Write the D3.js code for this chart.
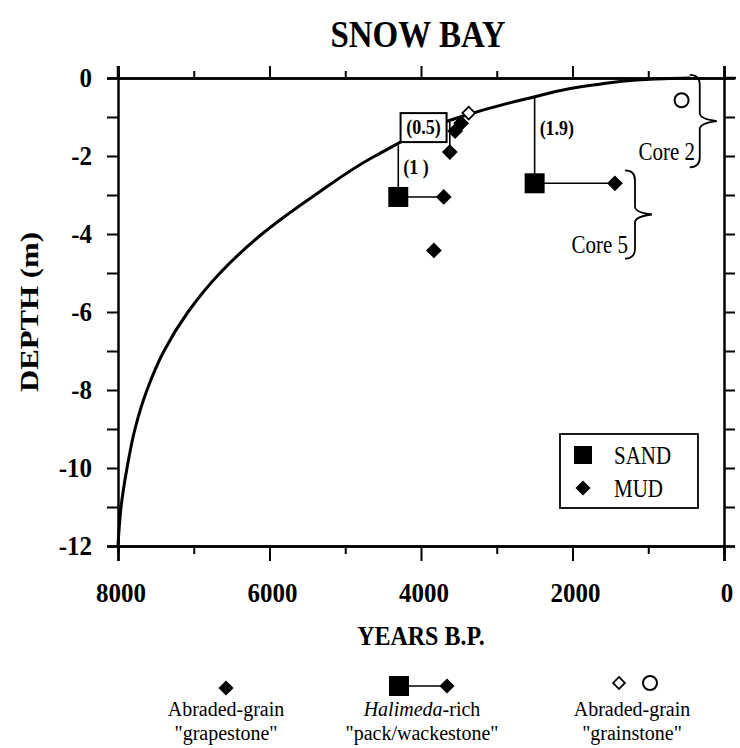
<!DOCTYPE html>
<html>
<head>
<meta charset="utf-8">
<script src="https://cdn.jsdelivr.net/npm/d3@7"></script>
<style>
  body { margin: 0; background: #fff; }
  text { font-family: "Liberation Serif", "Times New Roman", serif; fill: #000; }
</style>
</head>
<body>
<div id="chart"></div>
<script>
// depth curve: [years B.P., depth m]
const curveYears = [8000, 7960, 7881, 7776, 7617, 7393, 7076, 6653, 6099, 5399, 4607, 3485, 2535, 1729, 977, 449]
const curveDepth = [-12, -11, -10, -9, -8, -7, -6, -5, -4, -3, -2, -1, -0.5, -0.18, -0.03, 0]

// sand / mud pairs (Halimeda-rich)
const sandYears = [4300, 2500]
const sandDepth = [-3.05, -2.7]
const pairMudYears = [3700, 1440]
const pairMudDepth = [-3.05, -2.7]

// filled diamonds (grapestone)
const mudYears = [3830, 3620, 3550, 3470]
const mudDepth = [-4.42, -1.9, -1.36, -1.16]

// open markers (grainstone)
const openDiamondYears = [3370]
const openDiamondDepth = [-0.9]
const openCircleYears = [560]
const openCircleDepth = [-0.57]

// offset lines from curve down to sample, with labels
const offsetYears = [4300, 3620, 2500]
const offsetDepth = [-3.05, -1.9, -2.7]
const offsetLabels = ['(1 )', '(0.5)', '(1.9)']

const xTicks = [8000, 6000, 4000, 2000, 0]
const yTicks = [0, -2, -4, -6, -8, -10, -12]

const width = 740, height = 748
const svg = d3.select('#chart').append('svg')
  .attr('width', width)
  .attr('height', height)

const x = d3.scaleLinear().domain([8000, 0]).range([118, 724])
const y = d3.scaleLinear().domain([0, -12]).range([78, 546])

// the scan is a little stretched vertically, so text is too
const tallText = function (sel, tx, ty, sy) {
  sel.attr('transform', `translate(${tx},${ty}) scale(1,${sy || 1.18})`)
}

// title
svg.append('text')
  .attr('text-anchor', 'middle')
  .attr('font-size', 33).attr('font-weight', 'bold')
  .text('SNOW BAY')
  .call(tallText, 418, 47)

const axisStyle = function (g) {
  g.select('.domain').attr('stroke-width', 2.5)
  g.selectAll('.tick line').attr('stroke-width', 2)
}

const allYears = d3.range(8000, -1, -1000)
const minorYears = allYears.filter(d => d % 2000 !== 0)
const allDepths = d3.range(0, -13, -1)

// bottom axis
svg.append('g').attr('transform', `translate(0,${y(-12)})`)
  .call(d3.axisBottom(x).tickValues(xTicks).tickSize(15).tickFormat(''))
  .call(axisStyle)
svg.append('g').attr('transform', `translate(0,${y(-12)})`)
  .call(d3.axisBottom(x).tickValues(minorYears).tickSize(8).tickFormat(''))
  .call(axisStyle)
svg.append('g').selectAll('text')
  .data(xTicks)
  .enter().append('text')
  .attr('text-anchor', 'middle')
  .attr('font-size', 25).attr('font-weight', 'bold')
  .text(d => String(d))
  .each(function (d) { d3.select(this).call(tallText, Math.min(x(d) + 3, 731), 602, 1.12) })

// top axis
svg.append('g').attr('transform', `translate(0,${y(0)})`)
  .call(d3.axisTop(x).tickValues(xTicks).tickSize(12).tickFormat(''))
  .call(axisStyle)
svg.append('g').attr('transform', `translate(0,${y(0)})`)
  .call(d3.axisTop(x).tickValues(minorYears).tickSize(7).tickFormat(''))
  .call(axisStyle)

// left axis
svg.append('g').attr('transform', `translate(${x(8000)},0)`)
  .call(d3.axisLeft(y).tickValues(allDepths).tickSize(11).tickFormat(''))
  .call(axisStyle)
svg.append('g').selectAll('text')
  .data(yTicks)
  .enter().append('text')
  .attr('text-anchor', 'end')
  .attr('font-size', 25).attr('font-weight', 'bold')
  .text(d => String(d))
  .each(function (d) { d3.select(this).call(tallText, 92, y(d) + 9, 1.12) })

// right axis
svg.append('g').attr('transform', `translate(${x(0)},0)`)
  .call(d3.axisRight(y).tickValues(allDepths).tickSize(11).tickFormat(''))
  .call(axisStyle)

// corner extensions
svg.append('line').attr('x1', x(8000)).attr('x2', x(8000)).attr('y1', y(0) - 12).attr('y2', y(0))
  .attr('stroke', '#000').attr('stroke-width', 2.5)
svg.append('line').attr('x1', x(0)).attr('x2', x(0) + 12).attr('y1', y(0)).attr('y2', y(0))
  .attr('stroke', '#000').attr('stroke-width', 2.5)

// axis titles
svg.append('text')
  .attr('transform', `translate(38,${y(-6)}) rotate(-90)`)
  .attr('text-anchor', 'middle')
  .attr('font-size', 25).attr('font-weight', 'bold')
  .attr('textLength', 160).attr('lengthAdjust', 'spacingAndGlyphs')
  .text('DEPTH (m)')

svg.append('text')
  .attr('text-anchor', 'middle')
  .attr('font-size', 24).attr('font-weight', 'bold')
  .text('YEARS B.P.')
  .call(tallText, 421, 645)

// curve
const curveData = curveYears.map((d, i) => [d, curveDepth[i]])
svg.append('path')
  .datum(curveData)
  .attr('fill', 'none')
  .attr('stroke', '#000')
  .attr('stroke-width', 3)
  .attr('d', d3.line().x(d => x(d[0])).y(d => y(d[1])).curve(d3.curveMonotoneY))

// helper: depth of curve at given years
const curveAt = d3.scaleLinear().domain(curveYears).range(curveDepth)

// offset lines up to the curve
offsetYears.forEach((t, i) => {
  svg.append('line')
    .attr('x1', x(t)).attr('x2', x(t))
    .attr('y1', y(curveAt(t))).attr('y2', y(offsetDepth[i]))
    .attr('stroke', '#000').attr('stroke-width', 1.6)
})

// horizontal pair lines sand -> mud
sandYears.forEach((t, i) => {
  svg.append('line')
    .attr('x1', x(t)).attr('x2', x(pairMudYears[i]))
    .attr('y1', y(sandDepth[i])).attr('y2', y(pairMudDepth[i]))
    .attr('stroke', '#000').attr('stroke-width', 1.6)
})

const diamondPath = function (s) { return d3.symbol().type(d3.symbolSquare).size(s)() }

function drawDiamond (g, cx, cy, filled, size) {
  g.append('path')
    .attr('d', diamondPath(size || 125))
    .attr('transform', `translate(${cx},${cy}) rotate(45)`)
    .attr('fill', filled ? '#000' : '#fff')
    .attr('stroke', '#000')
    .attr('stroke-width', filled ? 0 : 1.8)
}

// filled mud diamonds
mudYears.forEach((t, i) => drawDiamond(svg, x(t), y(mudDepth[i]), true))
pairMudYears.forEach((t, i) => drawDiamond(svg, x(t), y(pairMudDepth[i]), true))

// open diamond
openDiamondYears.forEach((t, i) => drawDiamond(svg, x(t), y(openDiamondDepth[i]), false, 80))

// sand squares
svg.selectAll('rect.sand')
  .data(sandYears)
  .enter().append('rect')
  .attr('class', 'sand')
  .attr('x', d => x(d) - 10)
  .attr('y', (d, i) => y(sandDepth[i]) - 10)
  .attr('width', 20).attr('height', 20)
  .attr('fill', '#000')

// open circle
svg.selectAll('circle.open')
  .data(openCircleYears)
  .enter().append('circle')
  .attr('cx', d => x(d))
  .attr('cy', (d, i) => y(openCircleDepth[i]))
  .attr('r', 7)
  .attr('fill', '#fff').attr('stroke', '#000').attr('stroke-width', 2)

// offset labels
svg.append('text').attr('font-size', 18).attr('font-weight', 'bold').text(offsetLabels[0])
  .call(tallText, x(4300) + 5, y(-2.45))
svg.append('text').attr('font-size', 18).attr('font-weight', 'bold').text(offsetLabels[2])
  .call(tallText, x(2500) + 5, y(-1.45))
const boxX = x(4230), boxY = y(-0.9)
svg.append('rect').attr('x', boxX - 3).attr('y', boxY).attr('width', 46).attr('height', 29)
  .attr('fill', '#fff').attr('stroke', '#000').attr('stroke-width', 2)
svg.append('text').attr('text-anchor', 'middle')
  .attr('font-size', 18).attr('font-weight', 'bold').text(offsetLabels[1])
  .call(tallText, boxX + 20, boxY + 21)

// braces
function brace (xp, y0, y1, w) {
  const mid = (y0 + y1) / 2
  return `M${xp - 10},${y0} Q${xp},${y0} ${xp},${y0 + 10} L${xp},${mid - 8} Q${xp},${mid - 2} ${xp + w},${mid}` +
    ` Q${xp},${mid + 2} ${xp},${mid + 8} L${xp},${y1 - 10} Q${xp},${y1} ${xp - 10},${y1}`
}
svg.append('path').attr('d', brace(x(320), y(0.08), y(-2.29), 17))
  .attr('fill', 'none').attr('stroke', '#000').attr('stroke-width', 1.8)
svg.append('path').attr('d', brace(x(1175), y(-2.37), y(-4.63), 17))
  .attr('fill', 'none').attr('stroke', '#000').attr('stroke-width', 1.8)
svg.append('text').attr('text-anchor', 'end').attr('font-size', 21).text('Core 2')
  .call(tallText, 695, 160)
svg.append('text').attr('text-anchor', 'end').attr('font-size', 21).text('Core 5')
  .call(tallText, 628, 253)

// SAND / MUD legend box
const lg = svg.append('g')
lg.append('rect').attr('x', 560).attr('y', 434).attr('width', 138).attr('height', 74)
  .attr('fill', '#fff').attr('stroke', '#000').attr('stroke-width', 1.8)
lg.append('rect').attr('x', 574).attr('y', 446).attr('width', 18).attr('height', 18).attr('fill', '#000')
drawDiamond(lg, 583, 488, true, 115)
lg.append('text').attr('font-size', 21).text('SAND').call(tallText, 614, 464)
lg.append('text').attr('font-size', 21).text('MUD').call(tallText, 614, 497)

// bottom legend
const bl = svg.append('g')
drawDiamond(bl, 226, 688, true, 115)
bl.append('line').attr('x1', 399).attr('x2', 447).attr('y1', 686).attr('y2', 686).attr('stroke', '#000').attr('stroke-width', 1.6)
bl.append('rect').attr('x', 389).attr('y', 676).attr('width', 20).attr('height', 20).attr('fill', '#000')
drawDiamond(bl, 447, 686, true, 115)
drawDiamond(bl, 619, 683, false, 70)
bl.append('circle').attr('cx', 650).attr('cy', 683).attr('r', 7).attr('fill', '#fff').attr('stroke', '#000').attr('stroke-width', 2)

const legendText = [
  { x: 226, lines: ['Abraded-grain', '"grapestone"'] },
  { x: 422, lines: ['-rich', '"pack/wackestone"'] },
  { x: 632, lines: ['Abraded-grain', '"grainstone"'] }
]
legendText.forEach((d, i) => {
  const t1 = bl.append('text').attr('text-anchor', 'middle').attr('font-size', 20)
    .attr('x', d.x).attr('y', 716)
  if (i === 1) {
    t1.append('tspan').attr('font-style', 'italic').text('Halimeda')
    t1.append('tspan').text(d.lines[0])
  } else {
    t1.text(d.lines[0])
  }
  bl.append('text').attr('text-anchor', 'middle').attr('font-size', 20).text(d.lines[1])
    .attr('x', d.x).attr('y', 740)
})
</script>
</body>
</html>
